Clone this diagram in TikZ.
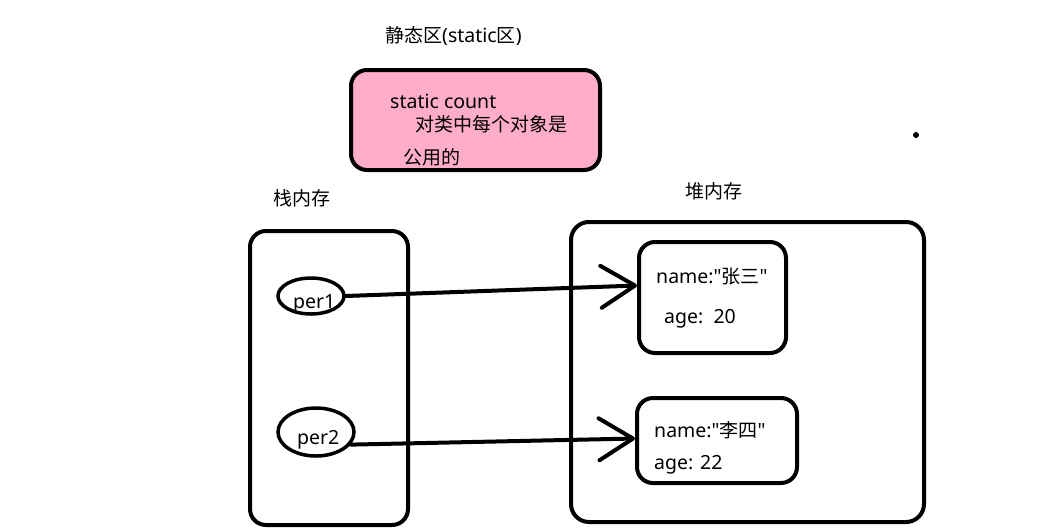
\documentclass[tikz,border=0pt]{standalone}
\usepackage{fontspec}
\setmainfont{Noto Sans}[Ligatures=TeXOff]
\newfontfamily\cjkfont{Noto Sans CJK SC}
\newcommand{\cj}[1]{{\cjkfont\fontsize{19}{21}\selectfont #1}}
\usetikzlibrary{arrows.meta,shapes.geometric}
\definecolor{pinkfill}{HTML}{FFADC9}
\tikzset{
  box/.style={draw=black, line width=4pt, rounded corners=16pt, inner sep=0pt},
  oval/.style={draw=black, line width=3.5pt, ellipse, inner sep=0pt},
  txt/.style={inner sep=0pt, anchor=base west, font=\fontsize{19.5}{21}\selectfont},
  ptr/.style={line width=4pt, line cap=round, -{Straight Barb[length=34pt,width=42pt,line width=4pt,round]}}
}
\begin{document}
\begin{tikzpicture}[x=1pt,y=-1pt]
\useasboundingbox (0,0) rectangle (1046,528);
% static area
\node[txt] (t0) at (385,42) {\cj{静态区}(static\cj{区})};
\node[box, fill=pinkfill, minimum width=249pt, minimum height=100pt] (st) at (475.5,120) {};
\node[txt] (s1) at (390,108) {static count};
\node[txt] (s2) at (415,131) {\cj{对类中每个对象是}};
\node[txt] (s3) at (403,164) {\cj{公用的}};
\fill (916,135) circle (3pt);
% stack
\node[txt] (t1) at (273,205) {\cj{栈内存}};
\node[box, minimum width=158pt, minimum height=294pt] (stack) at (329,378) {};
\node[oval, minimum width=66pt, minimum height=36pt] (p1) at (311,296) {};
\node[txt] (p1t) at (293,308) {per1};
\node[oval, minimum width=76pt, minimum height=48pt] (p2) at (316,432) {};
\node[txt] (p2t) at (297,444) {per2};
% heap
\node[txt] (t2) at (685,198) {\cj{堆内存}};
\node[box, rounded corners=18pt, minimum width=353pt, minimum height=300pt] (heap) at (747.5,372) {};
\node[box, minimum width=147pt, minimum height=111pt] (o1) at (712.5,297.5) {};
\node[txt] (o1a) at (656,283) {name:"\cj{张三}"};
\node[txt] (o1b) at (664,323) {age:\ \ 20};
\node[box, minimum width=160pt, minimum height=85pt] (o2) at (717,440.5) {};
\node[txt] (o2a) at (654,437) {name:"\cj{李四}"};
\node[txt] (o2b) at (654,469) {age: 22};
% pointers
\draw[ptr] (p1.east) -- ([yshift=12pt]o1.west);
\draw[ptr] (p2.-20) -- ([yshift=2pt]o2.west);
\end{tikzpicture}
\end{document}
